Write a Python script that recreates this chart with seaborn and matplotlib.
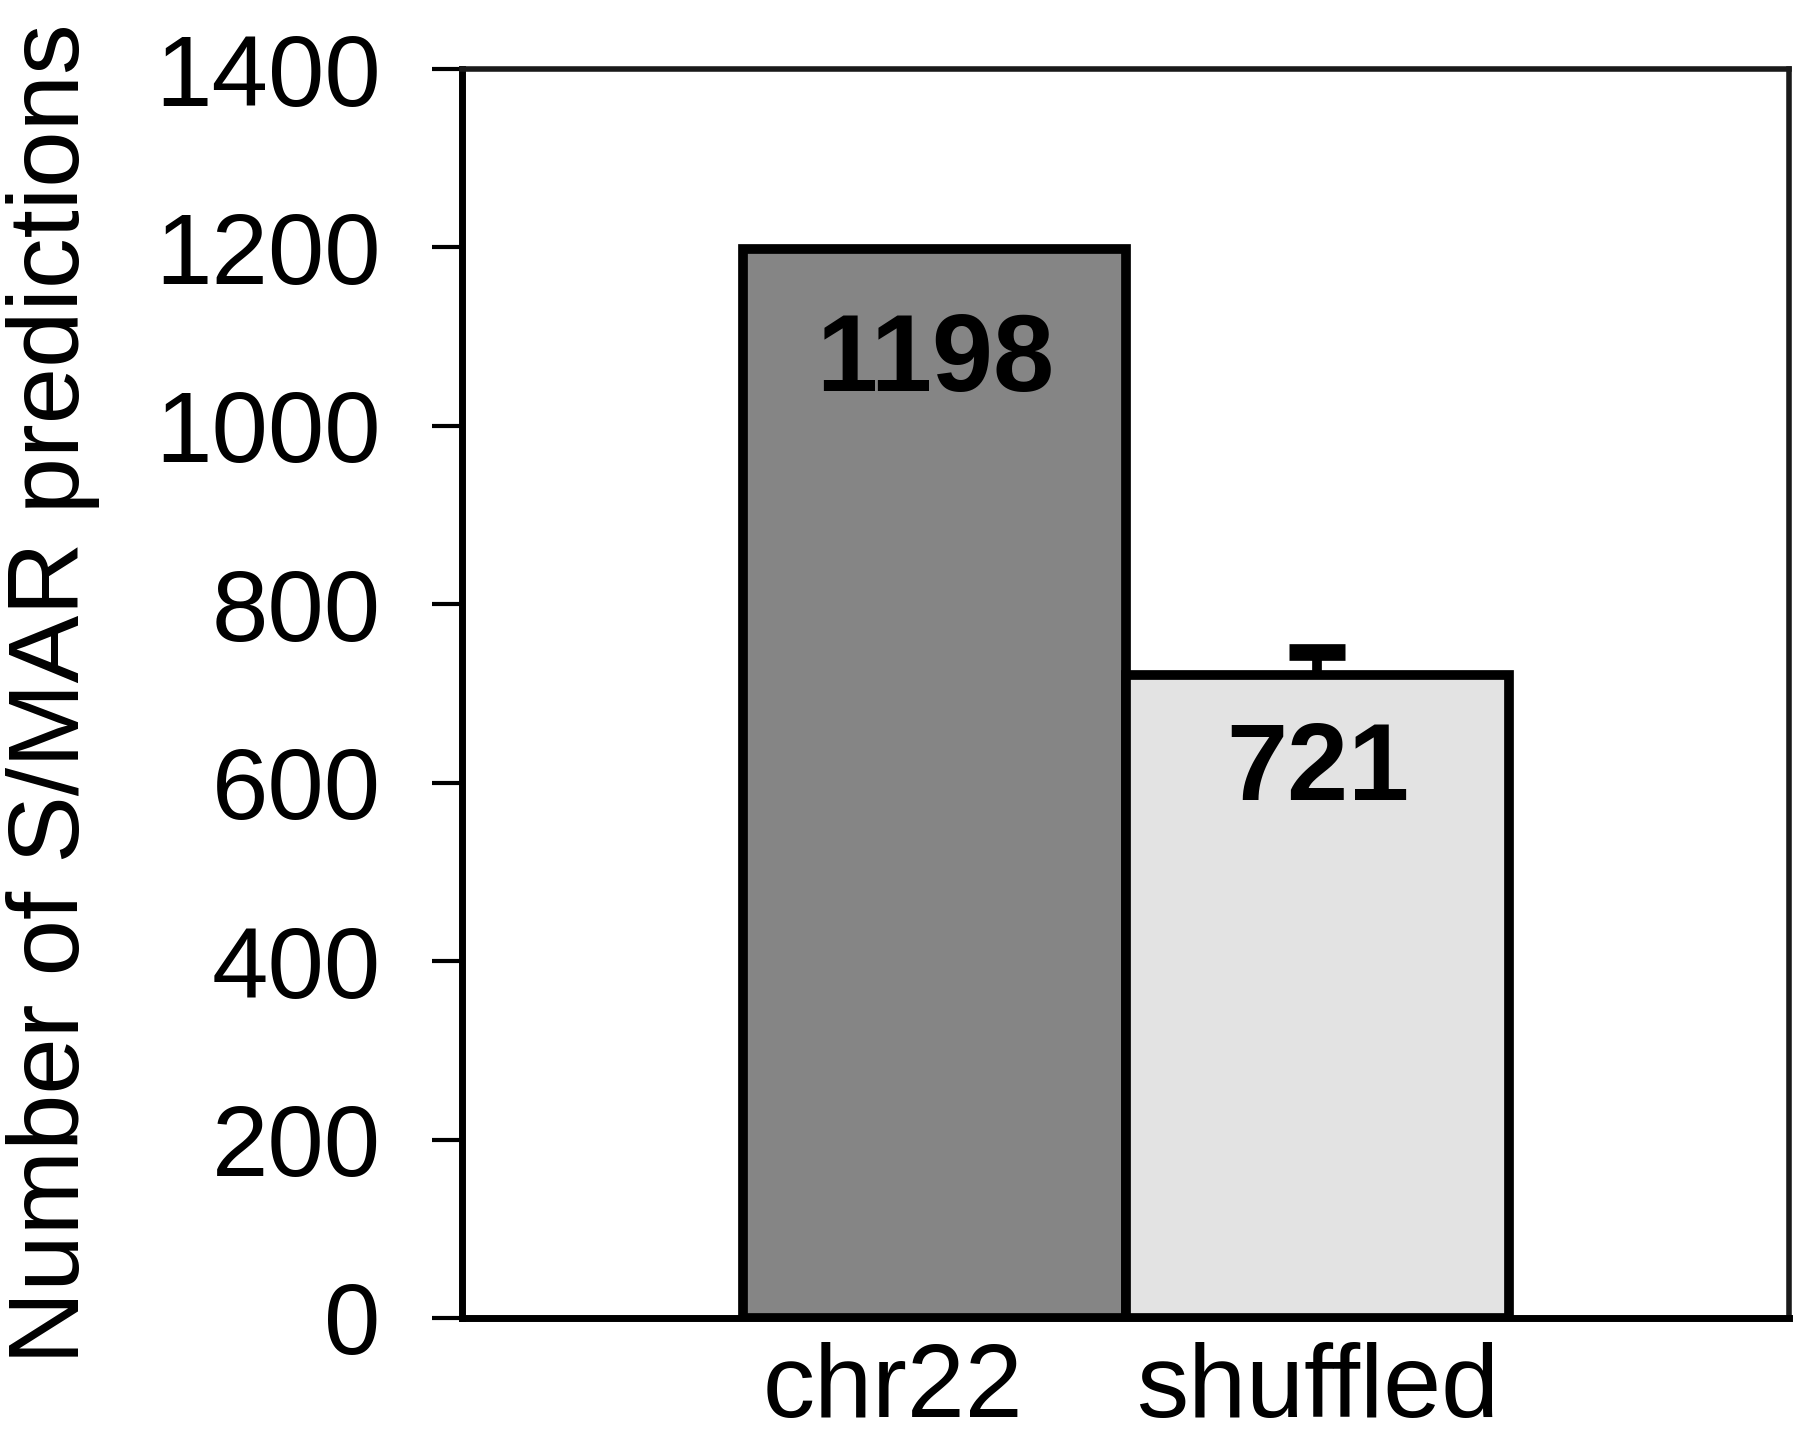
import matplotlib
matplotlib.use("Agg")
import matplotlib.pyplot as plt
import matplotlib.transforms as mtransforms
import seaborn as sns
import pandas as pd

# ---- data ----
categories = ["chr22", "shuffled"]
values = [1198, 721]
err_up = [0, 25]
value_labels = ["1198", "721"]
yticks = [0, 200, 400, 600, 800, 1000, 1200, 1400]
ylabel = "Number of S/MAR predictions"

sns.set_style("white")
plt.rcParams["font.family"] = ["Liberation Sans", "DejaVu Sans"]
plt.rcParams.update({"text.color": "black", "axes.labelcolor": "black",
                     "xtick.color": "black", "ytick.color": "black"})

df = pd.DataFrame({"cat": categories, "val": values})

fig = plt.figure(figsize=(18, 14.44), dpi=100)
ax = fig.add_axes([0.2567, 0.0873, 0.7372, 0.8649])

sns.barplot(data=df, x="cat", y="val", hue="cat", palette=["#858585", "#e3e3e3"],
            legend=False, width=1.0, edgecolor="black", linewidth=7,
            errorbar=None, ax=ax, zorder=2)

# upward-only error bar on shuffled: stem + top cap
ax.errorbar([1], [values[1]], yerr=[[0], [err_up[1]]], fmt="none",
            ecolor="black", elinewidth=7, capsize=0, zorder=3)
ax.plot([1], [values[1] + err_up[1]], marker="_", markersize=40,
        markeredgewidth=12, color="black", zorder=3)

# value labels inside bars
offsets = [-82, -70]
for i, (v, lab) in enumerate(zip(values, value_labels)):
    ax.annotate(lab, xy=(i, v), xytext=(0, offsets[i]), textcoords="offset points",
                ha="center", va="center", fontsize=79, fontweight="bold",
                color="black", zorder=4)

ax.set_xlim(-1.235, 2.232)
ax.set_ylim(0, 1400)
ax.set_yticks(yticks)
ax.set_yticklabels([str(t) for t in yticks])
ax.tick_params(axis="y", direction="out", length=21.6, width=3, pad=37,
               labelsize=73, left=True, color="black", labelcolor="black")
ax.tick_params(axis="x", length=0, pad=17, labelsize=75, labelcolor="black")
ax.set_xlabel("")
ax.set_ylabel(ylabel, fontsize=73, color="black")
ax.yaxis.set_label_coords(-0.273, 0.5)

# the first category label sits a little left of its bar in the original
shift = mtransforms.ScaledTranslation(-30 / 72, 0, fig.dpi_scale_trans)
lbl = ax.get_xticklabels()[0]
lbl.set_transform(lbl.get_transform() + shift)

for s in ["left", "bottom"]:
    ax.spines[s].set_color("black")
    ax.spines[s].set_linewidth(5)
for s in ["top", "right"]:
    ax.spines[s].set_visible(True)
    ax.spines[s].set_color("#1a1a1a")
    ax.spines[s].set_linewidth(4)

fig.savefig("out.png", dpi=100, facecolor="white")
